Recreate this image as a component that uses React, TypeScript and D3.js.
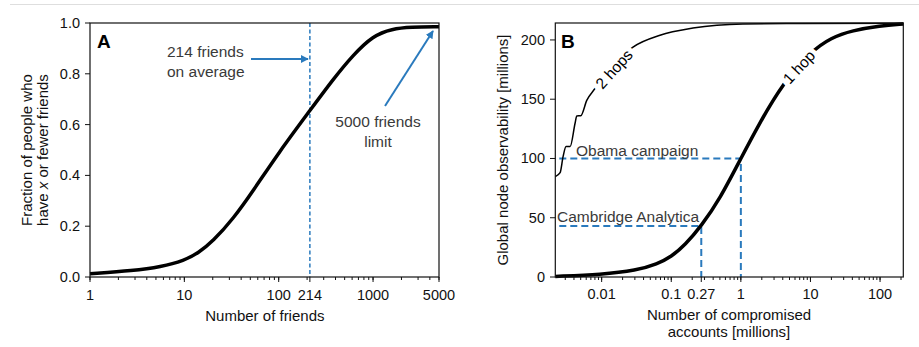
import React from "react";
import * as d3 from "d3";

// Panel A data
const friendsX = [1, 2.88, 5.62, 10, 14.1, 20, 33.1, 53.7, 100, 214, 380, 617, 1000, 1585, 2512, 5000];
const friendsCdf = [0.013, 0.025, 0.04, 0.065, 0.095, 0.14, 0.23, 0.34, 0.49, 0.655, 0.78, 0.875, 0.95, 0.977, 0.984, 0.985];
const xTickLabelsA = [1, 10, 100, 214, 1000, 5000];
const yTicksA = [0, 0.2, 0.4, 0.6, 0.8, 1.0];

// Panel B data
const oneHopX = [0.00216, 0.01, 0.0316, 0.0631, 0.1, 0.158, 0.27, 0.501, 1, 1.86, 3.98, 10, 19.95, 39.8, 100, 216];
const oneHopY = [0.5, 2, 5.5, 11, 17, 27, 43, 66, 100, 130, 163, 190, 202, 208, 212, 213.5];
const twoHopsX = [0.00216, 0.00253, 0.00279, 0.00308, 0.00352, 0.00415, 0.00439, 0.00501, 0.00611, 0.00803, 0.0282, 0.0689, 0.205, 1.07, 7.8, 216];
const twoHopsY = [84.7, 88, 101.5, 110, 110, 129.7, 135.9, 136, 149, 159, 194, 204, 210, 213.5, 213.9, 214];
const xTickLabelsB = [0.01, 0.1, 0.27, 1, 10, 100];
const yTicksB = [0, 50, 100, 150, 200];
const obama = { x: 1, y: 100 };
const cambridge = { x: 0.27, y: 43 };

const FONT = "'Liberation Sans', Arial, Helvetica, sans-serif";
const BLUE = "#2a7abd";

function minorTicks(lo: number, hi: number) {
  const out: number[] = [];
  for (let e = -4; e <= 4; e++) {
    for (let m = 1; m <= 9; m++) {
      const v = m * Math.pow(10, e);
      if (v >= lo * 0.999 && v <= hi * 1.001) out.push(v);
    }
  }
  return out;
}

function fmt(v: number) {
  return String(v);
}

export default function App() {
  const xA = d3.scaleLog().domain([1, 5000]).range([90, 439]);
  const yA = d3.scaleLinear().domain([0, 1]).range([277, 23]);
  const lineA = d3
    .line<number>()
    .x((_, i) => xA(friendsX[i]))
    .y((d) => yA(d))
    .curve(d3.curveBasis);

  const xB = d3.scaleLog().domain([Math.pow(10, -2.666), Math.pow(10, 2.334)]).range([555.3, 903.3]);
  const yB = d3.scaleLinear().domain([0, 214.3]).range([277, 23]);
  const line1 = d3
    .line<number>()
    .x((_, i) => xB(oneHopX[i]))
    .y((d) => yB(d))
    .curve(d3.curveBasis);
  const line2 = d3
    .line<number>()
    .x((_, i) => xB(twoHopsX[i]))
    .y((d) => yB(d))
    .curve(d3.curveMonotoneX);

  const minorA = minorTicks(1, 5000);
  const [bLo, bHi] = xB.domain();
  const minorB = minorTicks(bLo, bHi);

  const axisText = { fontFamily: FONT, fontSize: 14.5, fill: "#111" } as const;
  const annText = { fontFamily: FONT, fontSize: 15.5, fill: "#3a3a3a" } as const;

  return (
    <svg width={919} height={347} style={{ position: "absolute", left: 0, top: 0, background: "#fff" }}>
      <defs>
        <marker id="arrowBlue" viewBox="0 0 10 10" refX="9" refY="5" markerWidth="4" markerHeight="4" orient="auto">
          <path d="M0,0 L10,5 L0,10 z" fill={BLUE} />
        </marker>
      </defs>
      <rect x={0} y={0} width={919} height={347} fill="#fff" />
      <line x1={10} x2={919} y1={4.5} y2={4.5} stroke="#dedede" strokeWidth={1} />

      {/* ===== Panel A ===== */}
      <g>
        {minorA.map((v) => (
          <line key={"ma" + v} x1={xA(v)} x2={xA(v)} y1={277} y2={280} stroke="#111" strokeWidth={1} />
        ))}
        {xTickLabelsA.map((v) => (
          <g key={"xa" + v}>
            <line x1={xA(v)} x2={xA(v)} y1={277} y2={282} stroke="#111" strokeWidth={1} />
            <text x={xA(v)} y={300} textAnchor="middle" {...axisText}>
              {fmt(v)}
            </text>
          </g>
        ))}
        {yTicksA.map((v) => (
          <g key={"ya" + v}>
            <line x1={85} x2={90} y1={yA(v)} y2={yA(v)} stroke="#111" strokeWidth={1} />
            <text x={80} y={yA(v) + 5} textAnchor="end" {...axisText}>
              {v.toFixed(1)}
            </text>
          </g>
        ))}
        <text x={xA(214) - 45} y={321} textAnchor="middle" fontFamily={FONT} fontSize={15} fill="#111">
          Number of friends
        </text>
        <text transform="translate(32,150) rotate(-90)" textAnchor="middle" fontFamily={FONT} fontSize={15} fill="#111">
          Fraction of people who
        </text>
        <text transform="translate(48,150) rotate(-90)" textAnchor="middle" fontFamily={FONT} fontSize={15} fill="#111">
          have <tspan fontStyle="italic">x</tspan> or fewer friends
        </text>

        <line x1={xA(214)} x2={xA(214)} y1={23} y2={277} stroke={BLUE} strokeWidth={1.5} strokeDasharray="4,2.5" />
        <path d={lineA(friendsCdf) || ""} fill="none" stroke="#000" strokeWidth={3.5} />
        <rect x={90} y={23} width={349} height={254} fill="none" stroke="#111" strokeWidth={1.2} />

        <text x={97} y={48} fontFamily={FONT} fontSize={19} fontWeight="bold" fill="#000">
          A
        </text>
        <text x={167} y={57} {...annText}>
          214 friends
        </text>
        <text x={167} y={77} {...annText}>
          on average
        </text>
        <line x1={251} x2={308} y1={59} y2={59} stroke={BLUE} strokeWidth={2} markerEnd="url(#arrowBlue)" />
        <text x={378} y={127} textAnchor="middle" {...annText}>
          5000 friends
        </text>
        <text x={378} y={147} textAnchor="middle" {...annText}>
          limit
        </text>
        <line x1={385} x2={433} y1={106} y2={31} stroke={BLUE} strokeWidth={2} markerEnd="url(#arrowBlue)" />
      </g>

      {/* ===== Panel B ===== */}
      <g>
        {minorB.map((v) => (
          <line key={"mb" + v} x1={xB(v)} x2={xB(v)} y1={277} y2={280} stroke="#111" strokeWidth={1} />
        ))}
        {xTickLabelsB.map((v) => (
          <g key={"xb" + v}>
            <line x1={xB(v)} x2={xB(v)} y1={277} y2={282} stroke="#111" strokeWidth={1} />
            <text x={xB(v)} y={299} textAnchor="middle" {...axisText}>
              {fmt(v)}
            </text>
          </g>
        ))}
        {yTicksB.map((v) => (
          <g key={"yb" + v}>
            <line x1={550} x2={555.3} y1={yB(v)} y2={yB(v)} stroke="#111" strokeWidth={1} />
            <text x={545} y={yB(v) + 5} textAnchor="end" {...axisText}>
              {v}
            </text>
          </g>
        ))}
        <text x={729} y={320} textAnchor="middle" fontFamily={FONT} fontSize={15} fill="#111">
          Number of compromised
        </text>
        <text x={729} y={337} textAnchor="middle" fontFamily={FONT} fontSize={15} fill="#111">
          accounts [millions]
        </text>
        <text transform="translate(508,150) rotate(-90)" textAnchor="middle" fontFamily={FONT} fontSize={15} fill="#111">
          Global node observability [millions]
        </text>

        <path
          d={`M${xB(bLo) + 4},${yB(obama.y)} H${xB(obama.x)} V${yB(0)}`}
          fill="none"
          stroke={BLUE}
          strokeWidth={2}
          strokeDasharray="7,4"
        />
        <path
          d={`M${xB(bLo) + 4},${yB(cambridge.y)} H${xB(cambridge.x)} V${yB(0)}`}
          fill="none"
          stroke={BLUE}
          strokeWidth={2}
          strokeDasharray="7,4"
        />
        <text x={576} y={156} fontFamily={FONT} fontSize={15.5} fill="#3a3a3a">
          Obama campaign
        </text>
        <text x={557} y={222} fontFamily={FONT} fontSize={15.5} fill="#3a3a3a">
          Cambridge Analytica
        </text>

        <path d={line2(twoHopsY) || ""} fill="none" stroke="#000" strokeWidth={1.5} />
        <path d={line1(oneHopY) || ""} fill="none" stroke="#000" strokeWidth={3.5} />

        <text
          transform="translate(614,69) rotate(-48)"
          textAnchor="middle"
          dominantBaseline="central"
          fontFamily={FONT}
          fontSize={15.5}
          fill="#000"
          stroke="#fff"
          strokeWidth={9}
          paintOrder="stroke"
        >
          2 hops
        </text>
        <text
          transform="translate(799,67) rotate(-47)"
          textAnchor="middle"
          dominantBaseline="central"
          fontFamily={FONT}
          fontSize={15.5}
          fill="#000"
          stroke="#fff"
          strokeWidth={9}
          paintOrder="stroke"
        >
          1 hop
        </text>

        <rect x={555.3} y={23} width={348} height={254} fill="none" stroke="#111" strokeWidth={1.2} />
        <text x={561} y={48} fontFamily={FONT} fontSize={19} fontWeight="bold" fill="#000">
          B
        </text>
      </g>
    </svg>
  );
}
